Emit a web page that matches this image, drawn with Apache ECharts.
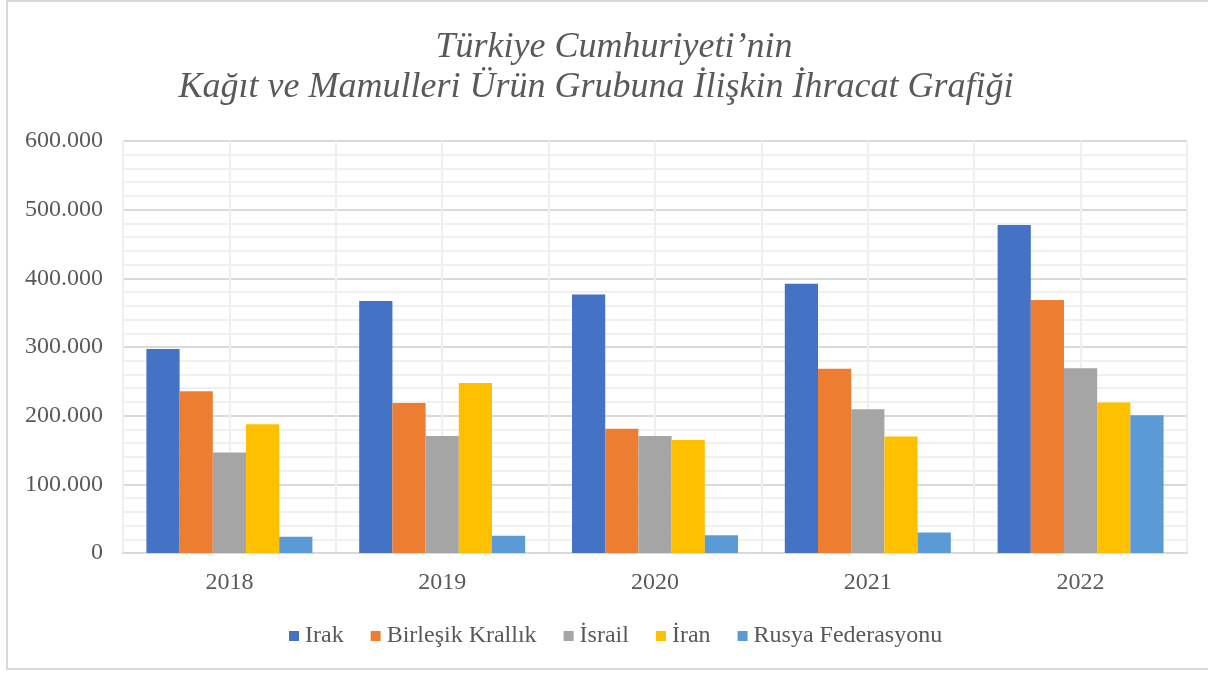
<!DOCTYPE html>
<html><head><meta charset="utf-8">
<script src="https://cdn.jsdelivr.net/npm/echarts@6/dist/echarts.min.js"></script>
<style>html,body{margin:0;padding:0;background:#fff}#c{width:1208px;height:673px}</style>
</head><body><div id="c"></div>
<script>
const titleLines = ['Türkiye Cumhuriyeti’nin', 'Kağıt ve Mamulleri Ürün Grubuna İlişkin İhracat Grafiği'];
const years = ['2018','2019','2020','2021','2022'];
const seriesNames = ['Irak','Birleşik Krallık','İsrail','İran','Rusya Federasyonu'];
const irak = [297000, 367000, 376500, 392000, 477500];
const birlesik = [235500, 218500, 181000, 268500, 368500];
const israil = [146500, 170500, 170500, 209500, 269000];
const iran = [187500, 247500, 164500, 169500, 219000];
const rusya = [23500, 25000, 26000, 30000, 200500];
const colors = ['#4472C4','#ED7D31','#A5A5A5','#FFC000','#5B9BD5'];
const allValues = [irak, birlesik, israil, iran, rusya];

const font = '"Liberation Serif", "Times New Roman", serif';
const chart = echarts.init(document.getElementById('c'), null, {renderer:'canvas'});
chart.setOption({
  animation: false,
  backgroundColor: '#fff',
  legend: {
    top: 624, left: 289, padding: 0,
    icon: 'rect', itemWidth: 10, itemHeight: 10, itemGap: 27,
    textStyle: {fontFamily: font, fontSize: 24, color: '#595959', padding: [0,0,0,1]},
    data: seriesNames
  },
  grid: {left: 123, right: 21, top: 141, bottom: 120},
  xAxis: [{
    type: 'category', data: years,
    axisLine: {lineStyle: {color: '#d9d9d9', width: 2}},
    axisTick: {show: false},
    axisLabel: {fontFamily: font, fontSize: 24, color: '#595959', margin: 18},
    splitLine: {show: false}
  }, {
    type: 'value', min: 0, max: 10, interval: 1, position: 'bottom',
    axisLine: {show: false}, axisTick: {show: false}, axisLabel: {show: false},
    splitLine: {show: true, lineStyle: {color: '#efefef', width: 2}}
  }],
  yAxis: {
    type: 'value', min: 0, max: 600000, interval: 100000,
    axisLine: {show: false}, axisTick: {show: false},
    axisLabel: {fontFamily: font, fontSize: 24, color: '#595959', margin: 20,
      formatter: v => v === 0 ? '0' : (v/1000) + '.000'},
    splitLine: {lineStyle: {color: '#d9d9d9', width: 2}},
    minorTick: {show: false, splitNumber: 5},
    minorSplitLine: {show: true, lineStyle: {color: '#f0f0f0', width: 2}}
  },
  series: seriesNames.map((n, i) => ({
    name: n, type: 'bar', xAxisIndex: 0, data: allValues[i],
    itemStyle: {color: colors[i]},
    barGap: '0%', barCategoryGap: '22%'
  })),
  graphic: [
    {type: 'rect', shape: {x: 7, y: 1, width: 1210, height: 668}, style: {fill: 'none', stroke: '#d9d9d9', lineWidth: 2}, silent: true},
    {type: 'text', x: 614, y: 48, style: {text: titleLines[0], font: 'italic 36px ' + font, fill: '#595959', textAlign: 'center', textVerticalAlign: 'middle'}},
    {type: 'text', x: 596, y: 88, style: {text: titleLines[1], font: 'italic 36px ' + font, fill: '#595959', textAlign: 'center', textVerticalAlign: 'middle'}}
  ]
});
</script></body></html>
